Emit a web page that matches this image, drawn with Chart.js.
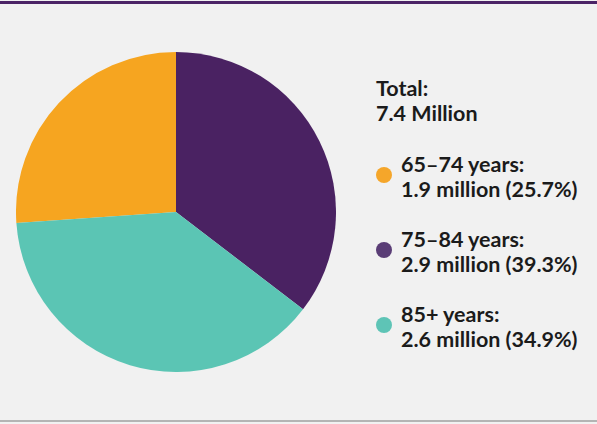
<!DOCTYPE html>
<html>
<head>
<meta charset="utf-8">
<script src="https://cdn.jsdelivr.net/npm/chart.js@4/dist/chart.umd.min.js"></script>
<style>
  html, body { margin: 0; padding: 0; }
  body { width: 597px; height: 424px; background: #f1f1f1; position: relative; overflow: hidden;
         font-family: Lato, "Open Sans", sans-serif; color: #1b1b1b; }
  .topbar { position: absolute; left: 0; top: 1px; width: 597px; height: 3px; background: #4b2366; }
  .bottombar { position: absolute; left: 0; top: 420px; width: 597px; height: 2px; background: #b4b4b4; }
  .pie { position: absolute; left: 16px; top: 52px; width: 320px; height: 320px; }
  .total { position: absolute; left: 376px; top: 76px; font-weight: 700; font-size: 21.5px; line-height: 25px; white-space: nowrap; }
  .item { position: absolute; left: 401px; font-weight: 700; font-size: 21.5px; line-height: 25px; white-space: nowrap; }
  .dot { position: absolute; left: -25px; top: 15px; width: 16px; height: 16px; border-radius: 50%; }
</style>
</head>
<body>
<div class="topbar"></div>
<div class="bottombar"></div>
<div class="pie"><canvas id="chart"></canvas></div>
<div class="total">Total:<br>7.4 Million</div>
<div id="legend"></div>
<script>
var categories = ['65–74 years', '75–84 years', '85+ years'];
var millions = [1.9, 2.9, 2.6];
var percentLabels = [25.7, 39.3, 34.9];
// slice sizes as drawn in the picture (purple and teal wedges differ from the labels)
var pieShares = [26.1, 35.4, 38.5];
var colors = ['#f6a520', '#4a2262', '#5bc5b4'];
var dotColors = ['#f5a62a', '#5a3d76', '#5ec4b6'];

var totalShare = pieShares.reduce(function (a, b) { return a + b; }, 0);

new Chart(document.getElementById('chart'), {
  type: 'pie',
  data: {
    labels: categories,
    datasets: [{
      data: pieShares,
      backgroundColor: colors,
      borderWidth: 0,
      hoverOffset: 0
    }]
  },
  options: {
    responsive: true,
    maintainAspectRatio: false,
    animation: false,
    events: [],
    rotation: -pieShares[0] / totalShare * 360,
    plugins: {
      legend: { display: false },
      tooltip: { enabled: false }
    }
  }
});

// legend on the right
var legend = document.getElementById('legend');
categories.forEach(function (name, i) {
  var item = document.createElement('div');
  item.className = 'item';
  item.style.top = (152 + i * 75) + 'px';
  item.innerHTML = '<span class="dot" style="background:' + dotColors[i] + '"></span>' +
    name + ':<br>' + millions[i] + ' million (' + percentLabels[i] + '%)';
  legend.appendChild(item);
});
</script>
</body>
</html>
